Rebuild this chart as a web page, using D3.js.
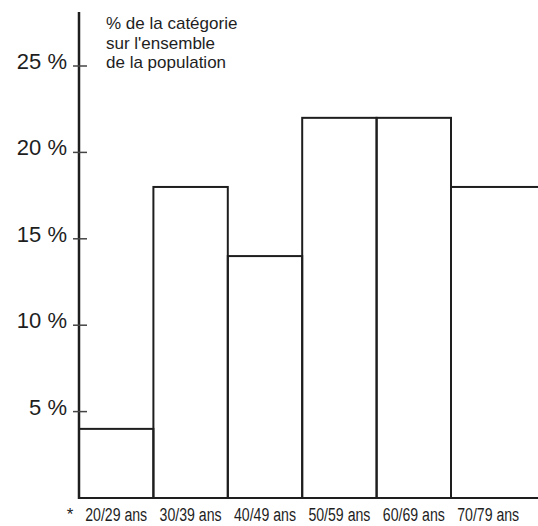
<!DOCTYPE html>
<html><head><meta charset="utf-8">
<script src="https://cdn.jsdelivr.net/npm/d3@7"></script>
<style>body{margin:0;background:#fff}svg{display:block}</style>
</head><body>
<script>
const categories = ["20/29 ans","30/39 ans","40/49 ans","50/59 ans","60/69 ans","70/79 ans"];
const values = [4, 18, 14, 22, 22, 18];
const tickValues = [5, 10, 15, 20, 25];
const tickLabels = ["5 %","10 %","15 %","20 %","25 %"];
const noteLines = ["% de la catégorie","sur l'ensemble","de la population"];

const W = 538, H = 526;
const svg = d3.select("body").append("svg").attr("width", W).attr("height", H);
const x0 = 79, y0 = 498;
const x = d3.scaleBand().domain(categories).range([x0, x0 + 6*74.4]).padding(0);
const y = d3.scaleLinear().domain([0, 25]).range([y0, 66]);
const ink = "#1e1e1e";

// bars
categories.forEach((c, i) => {
  const xl = x(c), xr = i === categories.length-1 ? W + 10 : x(c) + x.bandwidth();
  svg.append("rect").attr("x", xl).attr("y", y(values[i]))
    .attr("width", xr - xl).attr("height", y0 - y(values[i]))
    .attr("fill", "none").attr("stroke", ink).attr("stroke-width", 2);
});

// baseline
svg.append("line").attr("x1", x0).attr("x2", W).attr("y1", y0).attr("y2", y0)
  .attr("stroke", ink).attr("stroke-width", 2.2);
// y axis line
svg.append("line").attr("x1", x0).attr("x2", x0).attr("y1", 12).attr("y2", y0+1)
  .attr("stroke", ink).attr("stroke-width", 2.5);

// ticks
const g = svg.append("g");
tickValues.forEach((v, i) => {
  g.append("line").attr("x1", x0-6).attr("x2", x0+8).attr("y1", y(v)).attr("y2", y(v))
    .attr("stroke", "#444").attr("stroke-width", 1.5);
  g.append("text").attr("x", 67).attr("y", y(v) + 3)
    .attr("text-anchor", "end").attr("font-family", "Liberation Sans, Arial, sans-serif")
    .attr("font-size", 22).attr("fill", ink).text(tickLabels[i]);
});

// note
noteLines.forEach((t, i) => {
  svg.append("text").attr("x", 106).attr("y", 29 + i*19.5)
    .attr("font-family", "Liberation Sans, Arial, sans-serif")
    .attr("font-size", 17).attr("fill", ink).text(t);
});

// category labels
categories.forEach((c) => {
  const cx = x(c) + x.bandwidth()/2;
  svg.append("text").attr("x", cx - 31).attr("y", 521)
    .attr("font-family", "Liberation Sans, Arial, sans-serif")
    .attr("font-size", 18).attr("fill", ink)
    .attr("textLength", 62).attr("lengthAdjust", "spacingAndGlyphs").text(c);
});
svg.append("text").attr("x", 70).attr("y", 520).attr("text-anchor", "middle")
  .attr("font-family", "Liberation Sans, Arial, sans-serif").attr("font-size", 17)
  .attr("fill", ink).text("*");
</script>
</body></html>
